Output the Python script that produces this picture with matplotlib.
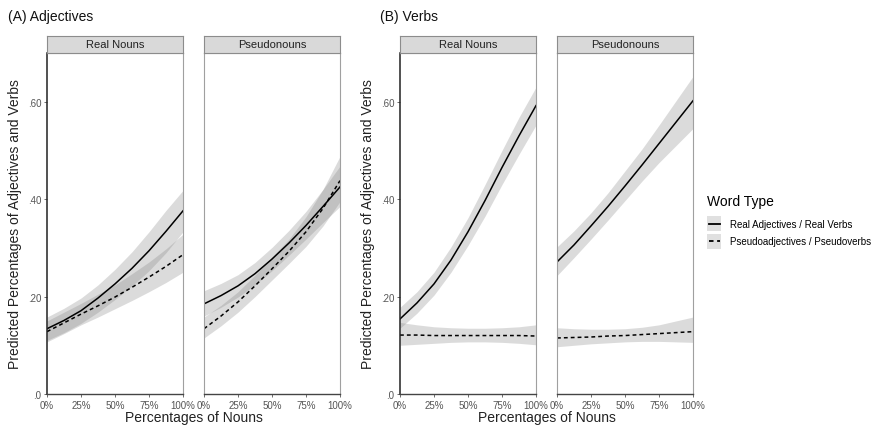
import matplotlib
matplotlib.use("Agg")
import matplotlib.pyplot as plt
from matplotlib.lines import Line2D
from matplotlib.patches import Rectangle
from matplotlib.legend_handler import HandlerBase

# === Данные ===
pct = [0, 0.125, 0.25, 0.375, 0.5, 0.625, 0.75, 0.875, 1.0]
facets = ["Real Nouns", "Pseudonouns"]
xtick_vals = [0, 0.25, 0.5, 0.75, 1.0]
xtick_labels = ["0%", "25%", "50%", "75%", "100%"]
ytick_vals = [0, 0.2, 0.4, 0.6]
ytick_labels = [".0", ".20", ".40", ".60"]
legend_labels = ["Real Adjectives / Real Verbs", "Pseudoadjectives / Pseudoverbs"]

# (A) Adjectives — Real Nouns
adj_real_solid = [.134, .151, .171, .197, .226, .258, .294, .334, .376]
adj_real_solid_lo = [.110, .126, .145, .168, .194, .222, .253, .290, .333]
adj_real_solid_hi = [.158, .176, .197, .224, .256, .292, .333, .377, .418]
adj_real_dash = [.128, .146, .164, .181, .199, .219, .240, .262, .286]
adj_real_dash_lo = [.107, .124, .142, .158, .175, .192, .210, .229, .250]
adj_real_dash_hi = [.150, .168, .186, .205, .224, .247, .271, .298, .328]

# (A) Adjectives — Pseudonouns
adj_pseudo_solid = [.185, .202, .222, .247, .277, .310, .346, .385, .425]
adj_pseudo_solid_lo = [.160, .178, .199, .224, .253, .285, .318, .352, .385]
adj_pseudo_solid_hi = [.212, .227, .245, .270, .301, .336, .375, .420, .468]
adj_pseudo_dash = [.134, .160, .189, .222, .257, .293, .333, .381, .438]
adj_pseudo_dash_lo = [.115, .140, .168, .200, .234, .268, .303, .345, .395]
adj_pseudo_dash_hi = [.158, .182, .210, .244, .281, .318, .364, .420, .488]

# (B) Verbs — Real Nouns
verb_real_solid = [.154, .187, .226, .275, .333, .397, .465, .530, .592]
verb_real_solid_lo = [.135, .166, .203, .250, .305, .365, .430, .492, .552]
verb_real_solid_hi = [.178, .210, .250, .302, .362, .430, .500, .568, .630]
verb_real_dash = [.121, .121, .120, .120, .120, .120, .120, .120, .119]
verb_real_dash_lo = [.100, .102, .104, .106, .107, .107, .106, .104, .101]
verb_real_dash_hi = [.147, .142, .138, .136, .135, .135, .136, .138, .142]

# (B) Verbs — Pseudonouns
verb_pseudo_solid = [.271, .306, .345, .385, .427, .470, .514, .558, .602]
verb_pseudo_solid_lo = [.243, .280, .318, .357, .397, .437, .475, .510, .545]
verb_pseudo_solid_hi = [.302, .335, .372, .413, .458, .503, .552, .602, .652]
verb_pseudo_dash = [.115, .116, .117, .119, .120, .122, .124, .126, .128]
verb_pseudo_dash_lo = [.097, .100, .103, .105, .107, .108, .108, .107, .106]
verb_pseudo_dash_hi = [.136, .134, .133, .133, .134, .137, .142, .150, .158]

panels = [
    ("A", 0, (adj_real_solid, adj_real_solid_lo, adj_real_solid_hi),
     (adj_real_dash, adj_real_dash_lo, adj_real_dash_hi)),
    ("A", 1, (adj_pseudo_solid, adj_pseudo_solid_lo, adj_pseudo_solid_hi),
     (adj_pseudo_dash, adj_pseudo_dash_lo, adj_pseudo_dash_hi)),
    ("B", 0, (verb_real_solid, verb_real_solid_lo, verb_real_solid_hi),
     (verb_real_dash, verb_real_dash_lo, verb_real_dash_hi)),
    ("B", 1, (verb_pseudo_solid, verb_pseudo_solid_lo, verb_pseudo_solid_hi),
     (verb_pseudo_dash, verb_pseudo_dash_lo, verb_pseudo_dash_hi)),
]

DASH = (0, (2.5, 2))

W, H = 894, 427
fig = plt.figure(figsize=(W / 100, H / 100), dpi=100)
plt.rcParams['font.family'] = ['Liberation Sans', 'DejaVu Sans']

# левые края панелей в пикселях
panel_left = {("A", 0): 47, ("A", 1): 204, ("B", 0): 400, ("B", 1): 557}
panel_w = 136
y_bot, y_top, strip_top = 395, 54, 37

ribbon_kw = dict(color="#808080", alpha=0.28, lw=0)

for group, fi, solid, dash in panels:
    x0 = panel_left[(group, fi)]
    ax = fig.add_axes([x0 / W, 1 - y_bot / H, panel_w / W, (y_bot - y_top) / H])
    ax.fill_between(pct, solid[1], solid[2], **ribbon_kw)
    ax.fill_between(pct, dash[1], dash[2], **ribbon_kw)
    ax.plot(pct, solid[0], color="black", lw=1.1)
    ax.plot(pct, dash[0], color="black", lw=1.1, linestyle=DASH)
    ax.set_xlim(0, 1)
    ax.set_ylim(0, 0.70)
    ax.set_xticks(xtick_vals)
    ax.set_xticklabels(xtick_labels)
    ax.tick_params(axis="x", labelsize=7, colors="#555555", length=2.5, pad=1.5, width=0.6)
    ax.set_yticks(ytick_vals)
    if fi == 0:
        ax.set_yticklabels(ytick_labels)
        ax.tick_params(axis="y", labelsize=7, colors="#555555", length=2.5, pad=1.5, width=0.6)
        ax.spines["left"].set_color("#222222")
        ax.spines["left"].set_linewidth(1.1)
        ax.set_ylabel("Predicted Percentages of Adjectives and Verbs", fontsize=10, color="#222222", labelpad=4)
    else:
        ax.tick_params(axis="y", left=False, labelleft=False)
        ax.spines["left"].set_color("#a0a0a0")
        ax.spines["left"].set_linewidth(0.8)
    ax.spines["bottom"].set_color("#444444")
    ax.spines["bottom"].set_linewidth(1.0)
    for s in ["top", "right"]:
        ax.spines[s].set_color("#a0a0a0")
        ax.spines[s].set_linewidth(0.8)

    # полоса с названием фасета
    sax = fig.add_axes([x0 / W, 1 - y_top / H, panel_w / W, (y_top - strip_top) / H])
    sax.set_facecolor("#d9d9d9")
    sax.set_xticks([])
    sax.set_yticks([])
    for s in sax.spines.values():
        s.set_color("#8c8c8c")
        s.set_linewidth(0.8)
    sax.text(0.5, 0.5, facets[fi], ha="center", va="center", fontsize=8, color="#222222",
             transform=sax.transAxes)

# заголовки групп
fig.text(8 / W, 1 - 17 / H, "(A) Adjectives", fontsize=10, va="center", ha="left", color="#111111")
fig.text(380 / W, 1 - 17 / H, "(B) Verbs", fontsize=10, va="center", ha="left", color="#111111")

# подписи оси X
fig.text((47 + 340) / 2 / W, 1 - 418 / H, "Percentages of Nouns", fontsize=10, ha="center", va="center", color="#222222")
fig.text((400 + 693) / 2 / W, 1 - 418 / H, "Percentages of Nouns", fontsize=10, ha="center", va="center", color="#222222")


# === Ключ легенды: серый квадрат с линией по центру ===
class KeyHandler(HandlerBase):
    def create_artists(self, legend, orig_handle, xdescent, ydescent, width, height, fontsize, trans):
        bg = Rectangle((-xdescent, -ydescent), width, height, facecolor="#e0e0e0",
                       edgecolor="none", transform=trans)
        yc = -ydescent + height / 2
        ln = Line2D([-xdescent + width * 0.12, -xdescent + width * 0.88], [yc, yc],
                    color="black", lw=1.3, linestyle=orig_handle.get_linestyle(), transform=trans)
        if orig_handle.get_linestyle() != "-":
            ln.set_linestyle(DASH)
        return [bg, ln]


handles = [
    Line2D([], [], color="black", linestyle="-"),
    Line2D([], [], color="black", linestyle="--"),
]

leg = fig.legend(handles, legend_labels, title="Word Type", loc="upper left",
                 bbox_to_anchor=(700 / W, 1 - 188 / H), frameon=False, fontsize=7,
                 title_fontsize=10, alignment="left", handlelength=1.5, handleheight=2.0,
                 handletextpad=0.9, labelspacing=0.25, borderpad=0.2,
                 handler_map={Line2D: KeyHandler()})
leg._legend_box.sep = 6

fig.savefig("out.png", dpi=100)
